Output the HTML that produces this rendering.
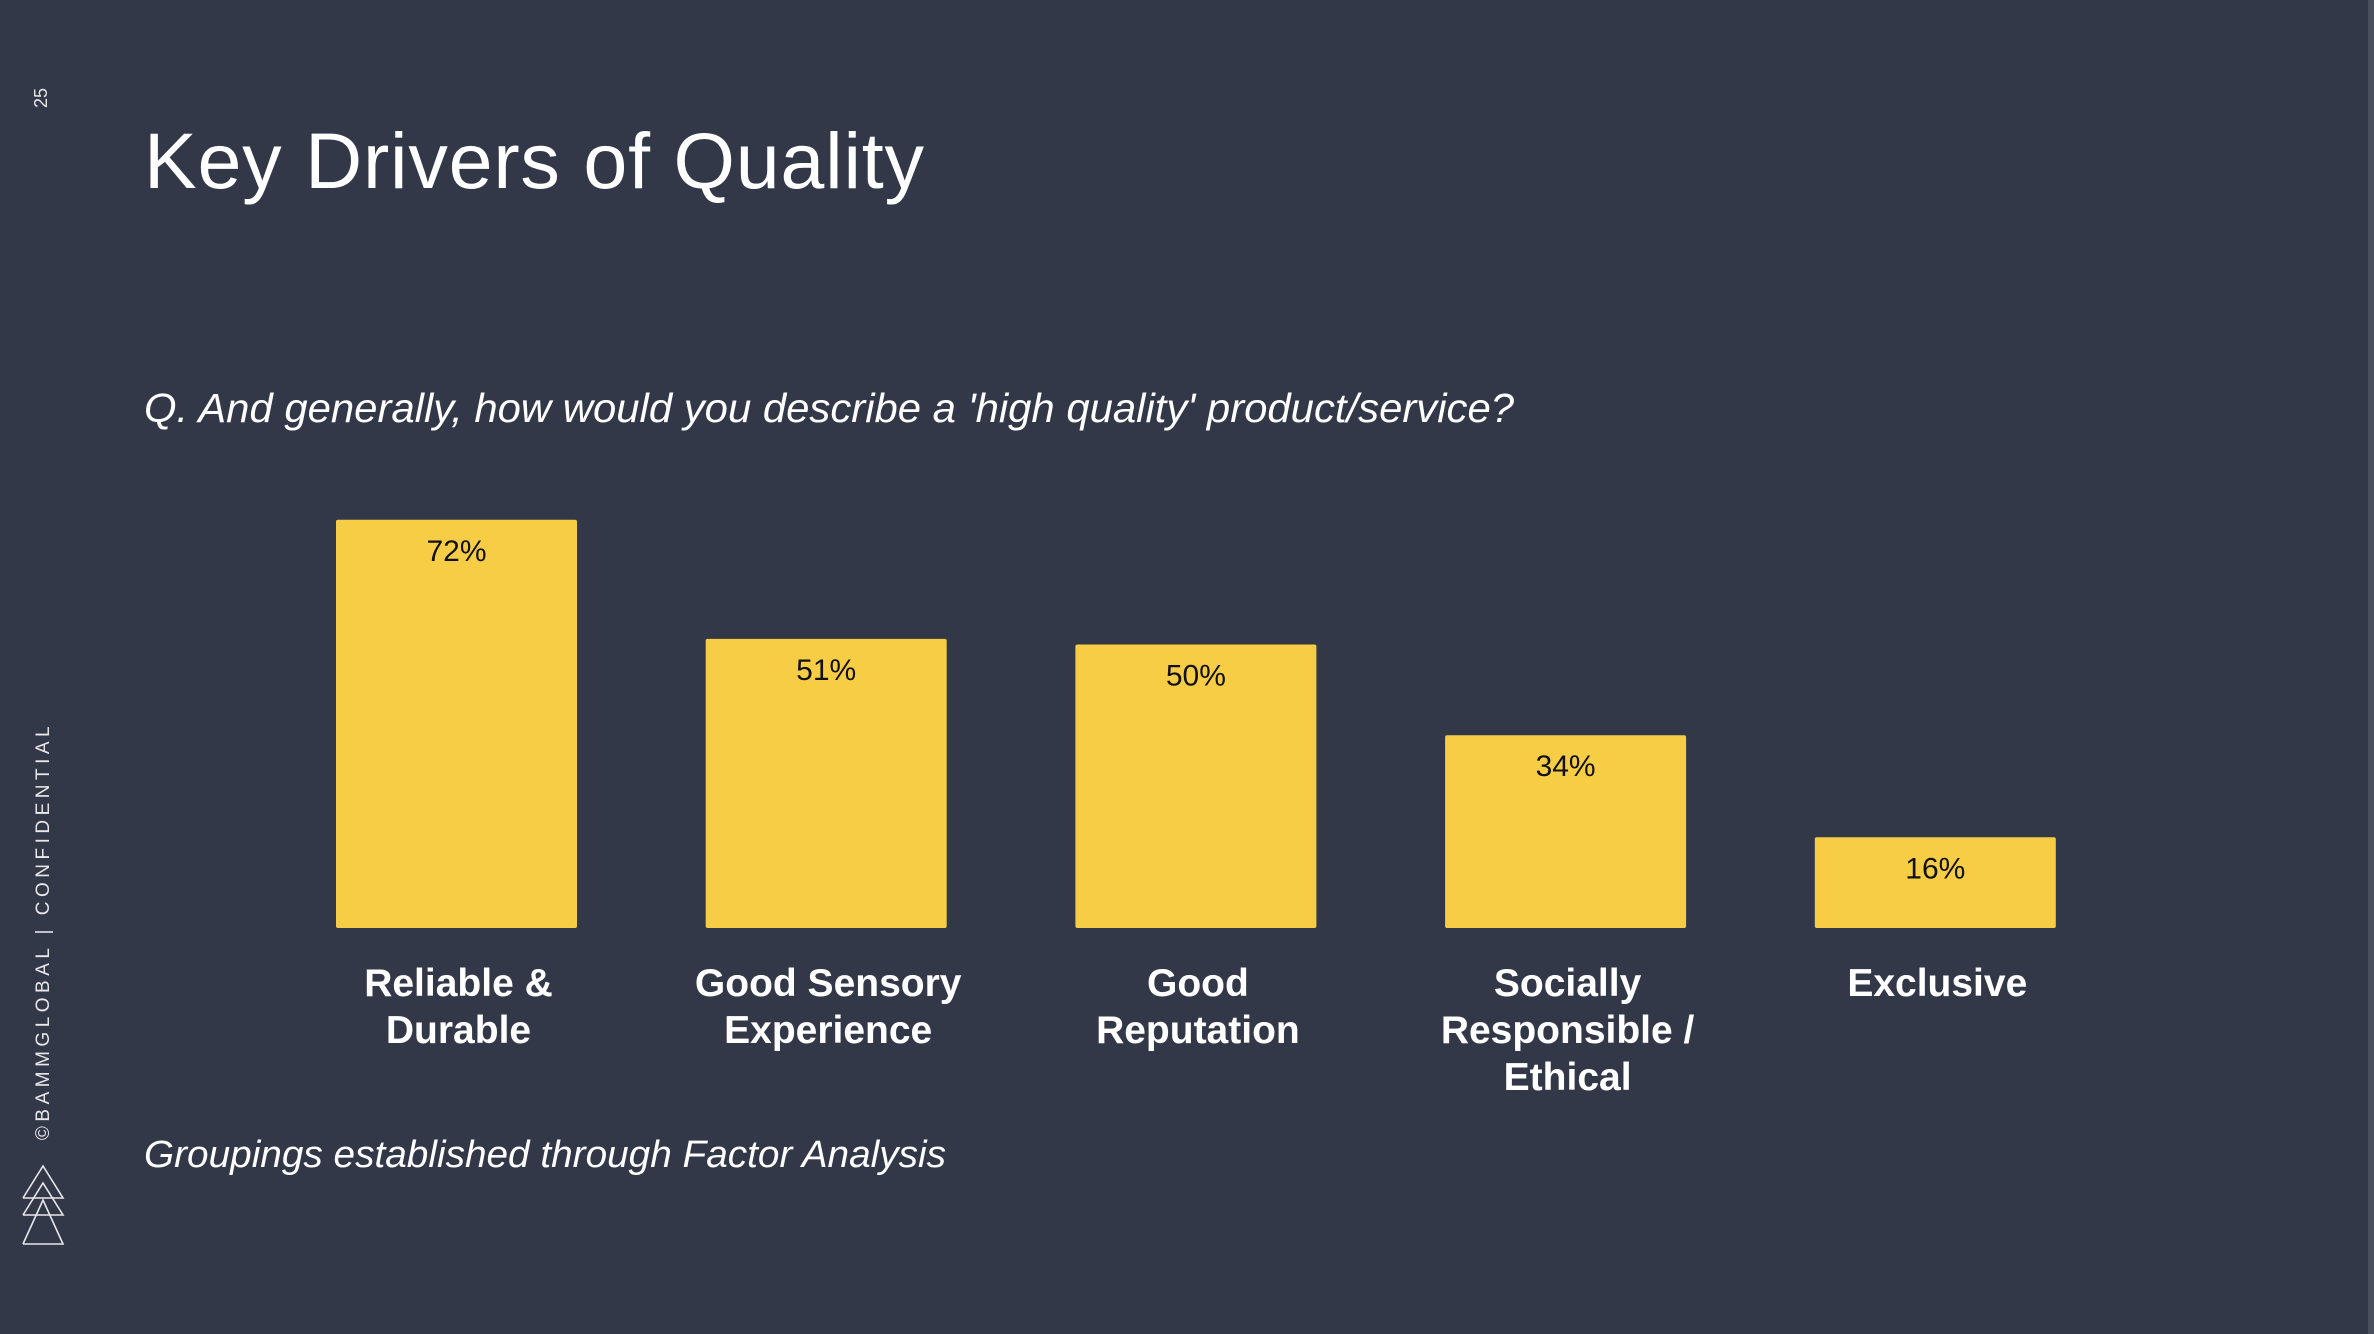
<!DOCTYPE html>
<html><head><meta charset="utf-8"><style>
html,body{margin:0;padding:0;background:#333849;}
svg{display:block}
</style></head><body>
<svg width="2374" height="1334" viewBox="0 0 2374 1334" xmlns="http://www.w3.org/2000/svg">
<rect x="0" y="0" width="2374" height="1334" fill="#333849"/>
<rect x="2368" y="0" width="6" height="1334" fill="#4a4f5e"/>
<text x="42" y="98" transform="rotate(-90 42 98)" text-anchor="middle" dominant-baseline="middle" font-family="Liberation Sans, sans-serif" font-size="18" fill="#e8e8ea">25</text>
<text x="44" y="931" transform="rotate(-90 44 931)" text-anchor="middle" dominant-baseline="middle" font-family="Liberation Sans, sans-serif" font-size="19" letter-spacing="4.5" fill="#e8e8ea">©BAMMGLOBAL | CONFIDENTIAL</text>
<g fill="none" stroke="#e8e8ea" stroke-width="1.6">
<polyline points="23,1198 43,1166 63,1198 23,1198"/><polyline points="23,1215 43,1183 63,1215 23,1215"/><polyline points="23,1244 43,1200 63,1244 23,1244"/>
</g>
<text x="144" y="188" font-family="Liberation Sans, sans-serif" font-size="79" fill="#ffffff" textLength="780">Key Drivers of Quality</text>
<text x="144" y="422" font-family="Liberation Sans, sans-serif" font-style="italic" font-size="41" fill="#ffffff" textLength="1370" lengthAdjust="spacingAndGlyphs">Q. And generally, how would you describe a 'high quality' product/service?</text>
<text x="144" y="1167" font-family="Liberation Sans, sans-serif" font-style="italic" font-size="38" fill="#ffffff" textLength="802" lengthAdjust="spacingAndGlyphs">Groupings established through Factor Analysis</text>
<g id="chart"></g>
</svg>
<script>
const categories = [["Reliable &","Durable"],["Good Sensory","Experience"],["Good","Reputation"],["Socially","Responsible /","Ethical"],["Exclusive"]];
const values = [72, 51, 50, 34, 16];
const valueLabels = ["72%","51%","50%","34%","16%"];
const NS="http://www.w3.org/2000/svg";
const g=document.getElementById('chart');
const baseY=928, pxPer=5.67, firstCenter=456.5, step=369.7, barW=241;
function yScale(v){return baseY - v*pxPer;}
function xScale(i){return firstCenter + i*step;}
values.forEach((v,i)=>{
  const cx=xScale(i), top=yScale(v);
  const r=document.createElementNS(NS,'rect');
  r.setAttribute('x',cx-barW/2);r.setAttribute('y',top);
  r.setAttribute('width',barW);r.setAttribute('height',baseY-top);
  r.setAttribute('fill','#f7cd46');r.setAttribute('rx','2');
  
  
  g.appendChild(r);
  const t=document.createElementNS(NS,'text');
  t.setAttribute('x',cx);t.setAttribute('y',top+41);
  t.setAttribute('text-anchor','middle');t.setAttribute('font-family','Liberation Sans, sans-serif');
  t.setAttribute('font-size','30');t.setAttribute('fill','#111111');
  t.textContent=valueLabels[i];
  
  
  g.appendChild(t);
  categories[i].forEach((line,j)=>{
    const c=document.createElementNS(NS,'text');
    c.setAttribute('x',cx+2);c.setAttribute('y',996+j*47);
    c.setAttribute('text-anchor','middle');c.setAttribute('font-family','Liberation Sans, sans-serif');
    c.setAttribute('font-weight','bold');c.setAttribute('font-size','39');c.setAttribute('fill','#ffffff');
    c.textContent=line;
    
    
    g.appendChild(c);
  });
});
</script>
</body></html>
